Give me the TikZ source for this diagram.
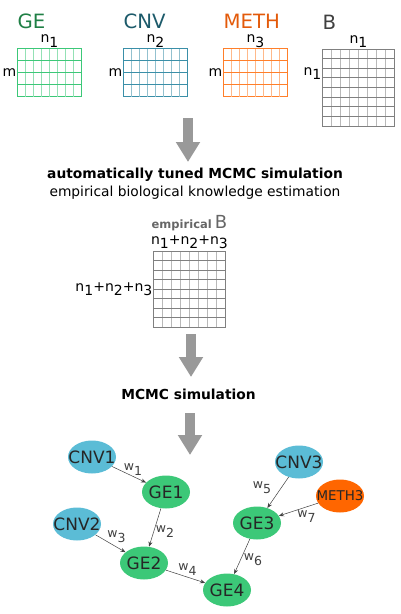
\documentclass[tikz,border=0pt]{standalone}
\usepackage{fontspec}
\setmainfont{DejaVu Sans}
\usepackage{tikz}
\usetikzlibrary{calc, positioning, shapes.geometric, arrows.meta}

\definecolor{gecol}{HTML}{3CC878}
\definecolor{getxt}{HTML}{1F7F45}
\definecolor{cnvcol}{HTML}{3A8FA8}
\definecolor{cnvfill}{HTML}{5BBCD6}
\definecolor{cnvtxt}{HTML}{1C5A6A}
\definecolor{methcol}{HTML}{FF7F2A}
\definecolor{methfill}{HTML}{FF6600}
\definecolor{methtxt}{HTML}{E35A0A}
\definecolor{bcol}{HTML}{808080}
\definecolor{arrowgray}{HTML}{999999}

\newcommand{\lo}[1]{\raisebox{-4.5pt}{#1}}

\begin{document}
\begin{tikzpicture}[x=1pt, y=-1pt,
   mat/.style = {draw=#1, line width=1pt, inner sep=0, outer sep=0, minimum width=64pt, minimum height=48pt},
   title/.style = {font=\fontsize{19.7}{22}\selectfont, anchor=base west, inner sep=0},
   dim/.style = {font=\fontsize{14}{16}\selectfont, inner sep=1pt},
   headline/.style = {font=\bfseries\fontsize{13.8}{16}\selectfont},
   plain/.style = {font=\fontsize{13.8}{16}\selectfont},
   bigarrow/.style = {draw=arrowgray, line width=10pt, -{Triangle[width=23pt, length=20pt]}},
   gene/.style = {ellipse, inner sep=0, minimum width=48pt, minimum height=33pt, text=black!85, font=\fontsize{17}{18}\selectfont},
   ge/.style = {gene, fill=gecol},
   cnv/.style = {gene, fill=cnvfill},
   meth/.style = {gene, fill=methfill, font=\fontsize{13.4}{15}\selectfont},
   wlab/.style = {font=\fontsize{12.5}{14}\selectfont, inner sep=0},
   >={Stealth[length=5pt, width=4pt]}]
   \useasboundingbox (0,0) rectangle (400,614);

   % data matrices
   \node[mat=gecol]   (gemat)   at (49.5,72.5) {};
   \node[mat=cnvcol]  (cnvmat)  at (155.5,72.5) {};
   \node[mat=methcol] (methmat) at (255.5,72.5) {};
   \node[mat=bcol, minimum width=72pt, minimum height=77pt] (bmat) at (358.5,87.5) {};
   \node[mat=bcol, minimum width=72pt, minimum height=76pt] (emat) at (189.5,289) {};
   % inner lines: light columns, full rows
   \foreach \m/\r/\c in {gemat/4/gecol, cnvmat/4/cnvcol, methmat/4/methcol, bmat/8/bcol, emat/8/bcol} {
     \foreach \i in {1,...,7}
       \draw[draw=\c!55, line width=1pt] ($(\m.south west)!\i/8!(\m.south east)$) -- ($(\m.north west)!\i/8!(\m.north east)$);
     \foreach \j in {1,...,\r}
       \draw[draw=\c, line width=1pt] ($(\m.south west)!\j/\r!(\m.north west)$) -- ($(\m.south east)!\j/\r!(\m.north east)$);
   }

   \node[title, text=getxt]   (getitle)   at ([yshift=20pt]gemat.north west) {GE};
   \node[title, text=cnvtxt]  (cnvtitle)  at ([yshift=20pt]cnvmat.north west) {CNV};
   \node[title, text=methtxt] (methtitle) at ([yshift=20pt]methmat.north west) {METH};
   \node[title, text=black!75] (btitle)   at ([yshift=20pt]bmat.north west) {B};

   \node[dim, above=0pt of gemat]   (gen)   {n\lo1};
   \node[dim, above=0pt of cnvmat]  (cnvn)  {n\lo2};
   \node[dim, above=0pt of methmat] (methn) {n\lo3};
   \node[dim, above=0pt of bmat.north, anchor=south] (bn) {n\lo1};
   \node[dim, left=0pt of gemat]   (gem)   {m};
   \node[dim, left=0pt of cnvmat]  (cnvm)  {m};
   \node[dim, left=0pt of methmat] (methm) {m};
   \node[dim, anchor=east] (bleft) at ([yshift=14pt]bmat.west) {n\lo1};

   % first step
   \coordinate (a1) at (188,118);
   \coordinate (b1) at (188,162);
   \draw[bigarrow] (a1) -- (b1);
   \node[headline] (tuned) at (195,175) {automatically tuned MCMC simulation};
   \node[plain]    (estim) at (195,193) {empirical biological knowledge estimation};

   % empirical B
   \node[dim, above=1pt of emat] (etop) {n\lo1+n\lo2+n\lo3};
   \node[dim, left=0pt of emat]  (eleft) {n\lo1+n\lo2+n\lo3};
   \node[anchor=base, inner sep=0, text=black!60] (etitle) at ([yshift=23pt]emat.north)
      {{\bfseries\fontsize{11.5}{13}\selectfont empirical} {\fontsize{18}{20}\selectfont B}};

   % second step
   \coordinate (a2) at (191,334);
   \coordinate (b2) at (191,377);
   \draw[bigarrow] (a2) -- (b2);
   \node[headline] (mcmc) at (188.5,394) {MCMC simulation};
   \coordinate (a3) at (190,413);
   \coordinate (b3) at (190,455);
   \draw[bigarrow] (a3) -- (b3);

   % network
   \node[cnv]  (cnv1)  at (92,457)  {\makebox[0pt]{CNV1}};
   \node[ge]   (ge1)   at (166,492) {\makebox[0pt]{GE1}};
   \node[cnv]  (cnv2)  at (77,524)  {\makebox[0pt]{CNV2}};
   \node[ge]   (ge2)   at (144,563) {\makebox[0pt]{GE2}};
   \node[ge]   (ge4)   at (227,590) {\makebox[0pt]{GE4}};
   \node[ge]   (ge3)   at (257,523) {\makebox[0pt]{GE3}};
   \node[cnv]  (cnv3)  at (299,462) {\makebox[0pt]{CNV3}};
   \node[meth] (meth3) at (340,496) {\makebox[0pt]{METH3}};

   \draw[->, black!75, line width=.5pt]
      (cnv1)  edge node[wlab, xshift=4pt, yshift=5pt]{w\lo1} (ge1)
      (ge1)   edge node[wlab, xshift=10pt, yshift=-4pt]{w\lo2} (ge2)
      (cnv2)  edge node[wlab, xshift=6pt, yshift=7pt]{w\lo3} (ge2)
      (ge2)   edge node[wlab, xshift=2pt, yshift=7pt]{w\lo4} (ge4)
      (cnv3)  edge node[wlab, xshift=-16pt, yshift=5pt]{w\lo5} (ge3)
      (ge3)   edge node[wlab, xshift=11pt, yshift=-3pt]{w\lo6} (ge4)
      (meth3) edge node[wlab, xshift=8pt, yshift=-7pt]{w\lo7} (ge3);
\end{tikzpicture}
\end{document}
